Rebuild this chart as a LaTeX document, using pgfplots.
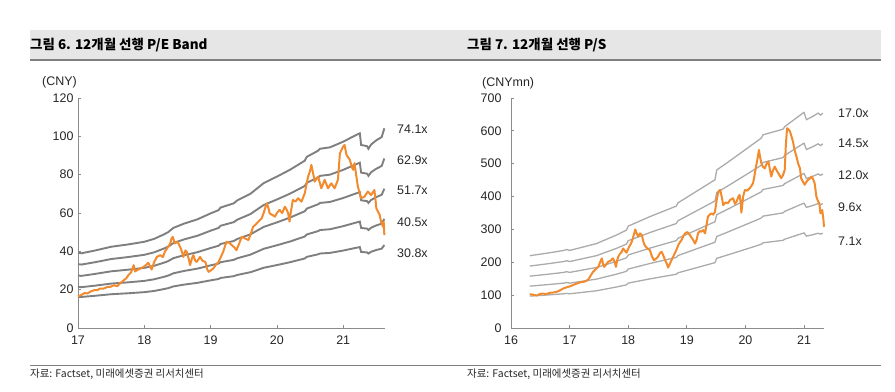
\documentclass[border=0pt]{standalone}
\usepackage{fontspec}
\setmainfont{Liberation Sans}
\newfontfamily\kr{Noto Sans CJK KR}
\usepackage{pgfplots}
\usepackage{pgfplotstable}
\pgfplotsset{compat=1.18}
\definecolor{orng}{HTML}{F28A2E}
\definecolor{bandL}{HTML}{7F7F7F}
\definecolor{bandR}{HTML}{ABABAB}
\definecolor{axg}{HTML}{8C8C8C}
\definecolor{barbg}{HTML}{E6E6E6}
\definecolor{barln}{HTML}{808080}
\definecolor{txt}{HTML}{262626}

\pgfplotstableread{
x a b c d e
17.00 39.27 33.34 27.40 21.47 16.32
17.05 38.98 33.09 27.19 21.30 16.20
17.25 40.38 34.28 28.18 22.07 16.79
17.50 42.39 35.98 29.57 23.17 17.62
17.75 43.57 36.99 30.40 23.81 18.11
18.00 44.98 38.18 31.38 24.58 18.70
18.15 46.53 39.50 32.47 25.43 19.34
18.30 48.91 41.51 34.12 26.73 20.33
18.36 50.02 42.46 34.90 27.34 20.79
18.44 52.24 44.34 36.45 28.55 21.71
18.60 54.46 46.23 38.00 29.77 22.64
18.80 56.69 48.12 39.55 30.98 23.56
19.00 59.80 50.76 41.72 32.68 24.86
19.12 61.50 52.21 42.91 33.62 25.56
19.15 62.84 53.34 43.84 34.34 26.12
19.35 65.06 55.23 45.39 35.56 27.04
19.40 66.54 56.48 46.43 36.37 27.66
19.60 70.02 59.44 48.86 38.27 29.11
19.80 75.58 64.16 52.73 41.31 31.42
20.00 78.99 67.05 55.11 43.17 32.83
20.20 82.62 70.13 57.65 45.16 34.34
20.42 87.29 74.10 60.90 47.71 36.28
20.45 89.29 75.79 62.30 48.80 37.11
20.62 92.48 78.50 64.52 50.54 38.44
20.65 93.51 79.38 65.25 51.11 38.87
20.80 94.26 80.01 65.76 51.52 39.18
21.00 97.22 82.52 67.83 53.14 40.41
21.15 99.89 84.79 69.69 54.59 41.52
21.25 101.59 86.24 70.88 55.53 42.23
21.27 95.51 81.08 66.64 52.20 39.70
21.36 94.85 80.51 66.18 51.84 39.42
21.38 93.51 79.38 65.25 51.11 38.87
21.42 95.74 81.27 66.80 52.33 39.79
21.50 97.96 83.15 68.35 53.54 40.72
21.58 99.59 84.54 69.48 54.43 41.40
21.62 104.18 88.44 72.69 56.94 43.30
}\bandsL

\pgfplotstableread{
x y
17.00 16.5
17.05 17.2
17.10 18.3
17.14 18.0
17.20 19.2
17.25 19.8
17.29 19.7
17.33 20.6
17.39 20.6
17.44 21.4
17.49 21.5
17.54 22.3
17.59 21.8
17.64 23.5
17.69 24.9
17.73 26.0
17.76 27.6
17.80 29.0
17.84 32.8
17.86 29.5
17.89 30.2
17.94 31.0
17.99 31.9
18.03 33.0
18.06 34.0
18.09 32.0
18.11 30.5
18.15 34.5
18.19 37.1
18.24 38.0
18.28 37.0
18.31 39.8
18.36 42.4
18.39 44.0
18.41 46.7
18.43 47.5
18.46 44.1
18.50 45.0
18.54 42.4
18.57 39.5
18.59 37.1
18.62 40.5
18.64 39.8
18.67 36.0
18.69 32.8
18.72 36.5
18.74 38.0
18.77 35.0
18.79 34.5
18.82 36.0
18.84 37.1
18.88 35.0
18.92 34.5
18.95 30.5
18.97 29.3
19.00 30.0
19.04 31.0
19.08 33.0
19.12 34.5
19.16 37.5
19.19 39.8
19.22 43.0
19.24 45.0
19.28 44.5
19.32 43.2
19.36 42.0
19.39 40.6
19.43 44.0
19.47 47.6
19.52 46.7
19.57 45.9
19.60 48.5
19.64 52.8
19.68 54.0
19.72 55.5
19.77 57.2
19.80 60.0
19.83 63.5
19.85 65.0
19.88 61.5
19.89 59.8
19.93 59.0
19.97 58.1
20.00 60.0
20.04 61.6
20.08 60.0
20.12 63.3
20.15 61.5
20.17 59.8
20.19 55.5
20.21 60.5
20.24 66.8
20.28 66.0
20.32 67.7
20.37 65.9
20.42 70.3
20.47 79.0
20.50 82.0
20.52 85.1
20.55 80.0
20.57 76.4
20.62 79.0
20.67 72.9
20.72 77.3
20.77 72.9
20.82 75.5
20.87 72.9
20.92 77.3
20.95 91.2
21.00 94.7
21.02 95.5
21.05 90.3
21.10 87.7
21.13 84.0
21.15 82.5
21.17 86.0
21.22 73.8
21.27 67.7
21.32 68.5
21.37 71.2
21.42 69.4
21.47 72.0
21.50 62.4
21.55 58.9
21.57 55.5
21.60 52.8
21.61 55.5
21.62 48.5
}\priceL

\pgfplotstableread{
x a b c d e
16.32 220 188.5 157.7 127.4 97.0
16.66 229 196.3 164.2 132.6 101.0
16.90 236 202.3 169.2 136.6 104.1
16.95 239 204.8 171.4 138.4 105.4
17.00 236 202.3 169.2 136.6 104.1
17.46 257 220.2 184.3 148.8 113.3
17.80 283 242.5 202.9 163.9 124.8
17.97 298 255.4 213.7 172.5 131.4
18.00 310 265.7 222.3 179.5 136.7
18.37 339 290.5 243.1 196.3 149.5
18.82 371 317.9 266.0 214.8 163.6
18.85 381 326.5 273.2 220.6 168.0
19.39 441 377.9 316.2 255.3 194.5
19.48 451 386.5 323.4 261.1 198.9
19.51 481 412.2 344.9 278.5 212.1
19.68 502 430.2 359.9 290.7 221.4
20.07 552 473.1 395.8 319.6 243.4
20.27 578 495.3 414.4 334.7 254.9
20.30 588 503.9 421.6 340.5 259.3
20.64 605 518.5 433.8 350.3 266.8
20.67 613 525.3 439.5 354.9 270.3
20.98 654 560.5 468.9 378.7 288.4
21.00 656 562.2 470.4 379.8 289.3
21.04 634 543.3 454.6 367.1 279.6
21.15 644 551.9 461.7 372.9 284.0
21.24 654 560.5 468.9 378.7 288.4
21.28 648 555.3 464.6 375.2 285.8
21.32 654 560.5 468.9 378.7 288.4
}\bandsR

\pgfplotstableread{
x y
16.32 103
16.38 101
16.44 99
16.50 104
16.55 105
16.60 103
16.66 107
16.72 108
16.78 110
16.84 115
16.89 120
16.95 124
17.01 127
17.06 131
17.12 135
17.18 139
17.23 140
17.28 143
17.32 148
17.36 160
17.40 171
17.45 180
17.49 186
17.52 200
17.55 212
17.57 195
17.59 186
17.62 193
17.66 202
17.70 205
17.74 212
17.77 200
17.79 186
17.81 205
17.83 217
17.86 226
17.89 232
17.91 242
17.94 236
17.97 229
18.01 245
18.06 262
18.09 280
18.12 300
18.14 290
18.17 278
18.20 288
18.23 283
18.26 262
18.28 252
18.32 243
18.37 237
18.40 220
18.44 206
18.48 212
18.51 217
18.54 228
18.57 232
18.60 220
18.63 206
18.66 195
18.68 184
18.71 195
18.74 207
18.78 222
18.82 237
18.86 255
18.91 268
18.94 280
18.97 288
19.01 292
19.05 283
19.10 270
19.14 257
19.17 270
19.19 288
19.22 295
19.25 293
19.28 298
19.31 288
19.34 318
19.36 339
19.39 345
19.42 349
19.45 345
19.48 354
19.51 390
19.53 410
19.55 418
19.57 420
19.60 395
19.62 374
19.66 382
19.70 380
19.74 390
19.79 395
19.82 378
19.85 385
19.88 400
19.90 405
19.92 380
19.93 351
19.96 400
19.99 420
20.03 418
20.07 425
20.10 432
20.13 441
20.16 470
20.18 491
20.21 520
20.23 542
20.25 520
20.27 502
20.30 490
20.33 486
20.36 500
20.39 507
20.42 480
20.44 461
20.47 480
20.50 491
20.53 480
20.56 471
20.59 462
20.61 456
20.64 465
20.67 481
20.69 560
20.71 608
20.74 603
20.76 598
20.79 580
20.81 568
20.84 540
20.87 522
20.90 500
20.93 486
20.95 456
20.98 445
21.01 436
21.04 445
21.07 451
21.10 455
21.13 461
21.16 450
21.18 441
21.21 400
21.24 385
21.26 380
21.28 349
21.31 359
21.33 330
21.34 308
}\priceR

\pgfplotsset{mystyle/.style={
  scale only axis, anchor=south west,
  axis x line*=bottom, axis y line*=left,
  axis line style={axg, line width=0.8bp, -},
  tick style={axg, line width=0.8bp},
  major tick length=3bp, tick align=inside,
  ymin=0, clip=false,
  /pgf/number format/assume math mode=true,
  ticklabel style={font=\fontsize{12.5}{14}\selectfont, text=txt},
  xticklabel style={yshift=-4bp},
  height=230bp,
}}

\begin{document}
\begin{tikzpicture}
\useasboundingbox (0,0) rectangle (895bp,392bp);
% title bar
\fill[barbg] (30bp,333bp) rectangle (881bp,362bp);
\draw[barln, line width=2bp] (30bp,332bp) -- (881bp,332bp);
\node[anchor=west, inner sep=0pt, text=black] at (30bp,347bp) {\kr\bfseries\fontsize{13.5}{15}\selectfont 그림 6. 12개월 선행 P/E Band};
\node[anchor=west, inner sep=0pt, text=black] at (467bp,347bp) {\kr\bfseries\fontsize{13.5}{15}\selectfont 그림 7. 12개월 선행 P/S};
% bottom line and source
\draw[barln, line width=1bp] (30bp,26bp) -- (881bp,26bp);
\node[anchor=west, inner sep=0pt, text=txt] at (30bp,18bp) {\kr\fontsize{10.5}{12}\selectfont 자료: Factset, 미래에셋증권 리서치센터};
\node[anchor=west, inner sep=0pt, text=txt] at (467bp,18bp) {\kr\fontsize{10.5}{12}\selectfont 자료: Factset, 미래에셋증권 리서치센터};

% left chart
\begin{axis}[mystyle, at={(78bp,64bp)}, width=307bp,
  xmin=17, xmax=21.63, ymax=120,
  xtick={17,18,19,20,21}, ytick={0,20,40,60,80,100,120},
  yticklabel style={xshift=-1bp}]
\addplot[bandL, line width=1.9bp] table[x=x,y=a] {\bandsL};
\addplot[bandL, line width=1.9bp] table[x=x,y=b] {\bandsL};
\addplot[bandL, line width=1.9bp] table[x=x,y=c] {\bandsL};
\addplot[bandL, line width=1.9bp] table[x=x,y=d] {\bandsL};
\addplot[bandL, line width=1.9bp] table[x=x,y=e] {\bandsL};
\addplot[orng, line width=2bp, line join=round] table[x=x,y=y] {\priceL};
\end{axis}

% right chart
\begin{axis}[mystyle, at={(511bp,64bp)}, width=313bp,
  xmin=16, xmax=21.34, ymax=700,
  xtick={16,17,18,19,20,21}, ytick={0,100,200,300,400,500,600,700},
  yticklabel style={xshift=-6bp}]
\addplot[bandR, line width=1.3bp] table[x=x,y=a] {\bandsR};
\addplot[bandR, line width=1.3bp] table[x=x,y=b] {\bandsR};
\addplot[bandR, line width=1.3bp] table[x=x,y=c] {\bandsR};
\addplot[bandR, line width=1.3bp] table[x=x,y=d] {\bandsR};
\addplot[bandR, line width=1.3bp] table[x=x,y=e] {\bandsR};
\addplot[orng, line width=2bp, line join=round] table[x=x,y=y] {\priceR};
\end{axis}

% units
\node[anchor=west, inner sep=0pt, text=txt, font=\fontsize{12.5}{14}\selectfont] at (42bp,310bp) {(CNY)};
\node[anchor=west, inner sep=0pt, text=txt, font=\fontsize{12.5}{14}\selectfont] at (482bp,309bp) {(CNYmn)};
% band labels
\begin{scope}[every node/.style={anchor=west, inner sep=0pt, text=txt, font=\fontsize{12.5}{14}\selectfont}]
\node at (397bp,263bp) {74.1x};
\node at (397bp,232bp) {62.9x};
\node at (397bp,202bp) {51.7x};
\node at (397bp,170bp) {40.5x};
\node at (397bp,139bp) {30.8x};
\node at (838bp,279bp) {17.0x};
\node at (838bp,249bp) {14.5x};
\node at (838bp,217bp) {12.0x};
\node at (838bp,185bp) {9.6x};
\node at (838bp,151bp) {7.1x};
\end{scope}
\end{tikzpicture}
\end{document}
